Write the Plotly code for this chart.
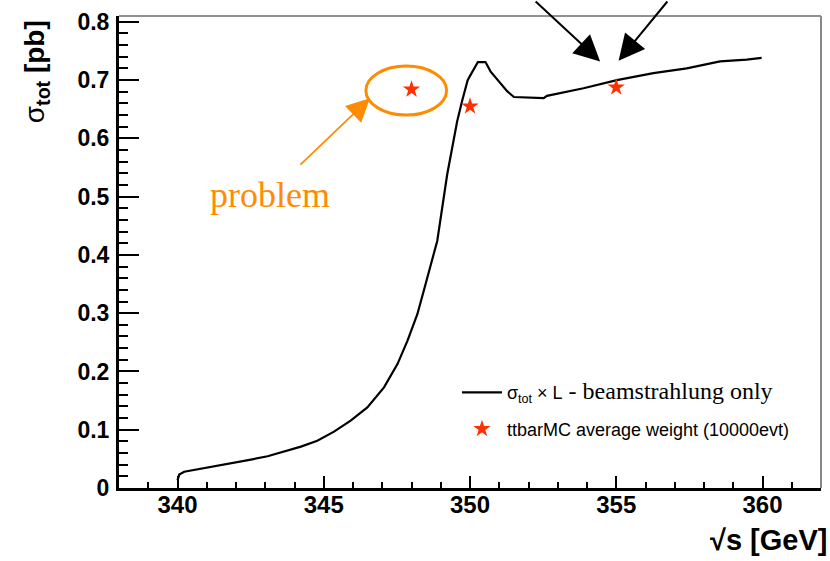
import plotly.graph_objects as go

# Total cross section (sigma_tot x L, beamstrahlung only) vs centre-of-mass energy
sqrt_s = [340.0, 340.06, 340.23, 340.46, 340.91, 341.37, 342.05, 342.51, 343.08, 343.65,
          344.22, 344.78, 345.35, 345.92, 346.49, 347.06, 347.52, 347.86, 348.2, 348.48,
          348.79, 348.88, 349.22, 349.56, 349.73, 349.92, 350.02, 350.27, 350.53, 350.70,
          351.27, 351.5, 352.52, 352.63, 353.88, 355.02, 356.27, 357.41, 358.55, 359.46,
          359.97]
sigma_tot = [0.013, 0.023, 0.028, 0.030, 0.034, 0.0385, 0.044, 0.0488, 0.0545, 0.0625,
             0.071, 0.081, 0.0967, 0.1156, 0.1384, 0.1726, 0.2127, 0.2526, 0.2983, 0.3497,
             0.4067, 0.424, 0.538, 0.629, 0.664, 0.700, 0.709, 0.731, 0.731, 0.715,
             0.681, 0.671, 0.669, 0.673, 0.686, 0.700, 0.712, 0.720, 0.732, 0.735,
             0.738]

# ttbar MC average weights
mc_sqrt_s = [348, 350, 355]
mc_weight = [0.684, 0.655, 0.6875]

x_ticks = [340, 345, 350, 355, 360]

ORANGE = "#FF8C00"
STAR_RED = "#FF3000"
SANS = "Liberation Sans"
SERIF = "Liberation Serif"

fig = go.Figure()
fig.add_trace(go.Scatter(
    x=sqrt_s, y=sigma_tot, mode="lines",
    line=dict(color="black", width=2.2),
    legendgroup="curve",
    name=('σ<sub>tot</sub> × L<span style="font-family:Liberation Serif;font-size:24px">'
          ' - beamstrahlung only</span>'),
))
fig.add_trace(go.Scatter(
    x=mc_sqrt_s, y=mc_weight, mode="markers",
    marker=dict(symbol="star", size=13, color=STAR_RED, line=dict(width=0)),
    legendgroup="mc",
    name="ttbarMC average weight (10000evt)",
))

# frame: top and right edges
fig.add_shape(type="line", xref="paper", yref="paper", x0=0, x1=1, y0=1, y1=1,
              line=dict(color="#222", width=1))
fig.add_shape(type="line", xref="paper", yref="paper", x0=1, x1=1, y0=0, y1=1,
              line=dict(color="#888", width=2))

# ellipse around the off-curve point
fig.add_shape(type="circle", xref="x", yref="y",
              x0=mc_sqrt_s[0] - 1.56, x1=mc_sqrt_s[0] + 1.20,
              y0=mc_weight[0] - 0.044, y1=mc_weight[0] + 0.040,
              line=dict(color=ORANGE, width=3))

annotations = [
    # orange arrow and label
    dict(x=346.58, y=0.669, xref="x", yref="y", ax=-71, ay=68, axref="pixel", ayref="pixel",
         showarrow=True, arrowhead=2, arrowsize=2.6, arrowwidth=1.8, arrowcolor=ORANGE, text=""),
    dict(x=343.15, y=0.503, xref="x", yref="y", text="problem", showarrow=False,
         font=dict(family=SERIF, size=36, color=ORANGE), xanchor="center", yanchor="middle"),
    # two black arrows pointing at the curve
    dict(x=354.45, y=0.732, xref="x", yref="y", ax=-66, ay=-80,
         showarrow=True, arrowhead=2, arrowsize=2.6, arrowwidth=2, arrowcolor="black", text=""),
    dict(x=355.08, y=0.733, xref="x", yref="y", ax=50, ay=-76,
         showarrow=True, arrowhead=2, arrowsize=2.6, arrowwidth=2, arrowcolor="black", text=""),
    # axis titles
    dict(x=0, y=0.881, xref="paper", yref="paper", xshift=-83, textangle=-90,
         text="σ<sub><b>tot</b></sub><b> [pb]</b>", showarrow=False,
         font=dict(family=SANS, size=28, color="black"), xanchor="center", yanchor="middle"),
    dict(x=1, y=-0.11, xref="paper", yref="paper", xshift=8,
         text="<b>√s [GeV]</b>", showarrow=False,
         font=dict(family=SANS, size=29, color="black"), xanchor="right", yanchor="middle"),
]

fig.update_layout(
    width=830, height=561,
    margin=dict(l=119, r=9, t=14, b=73),
    paper_bgcolor="white", plot_bgcolor="white",
    showlegend=True,
    legend=dict(x=0.4814, y=0.241, xanchor="left", yanchor="top",
                font=dict(family=SANS, size=18, color="black"),
                bgcolor="rgba(0,0,0,0)", borderwidth=0, itemwidth=40,
                tracegroupgap=10),
    annotations=annotations,
)

fig.update_xaxes(
    range=[338, 362], tickmode="array", tickvals=x_ticks,
    showline=True, linecolor="black", linewidth=3, showgrid=False, zeroline=False,
    ticks="inside", ticklen=12, tickwidth=2, tickcolor="black",
    tickfont=dict(family=SANS, size=24, color="black", weight="bold"),
    ticklabelstandoff=-7,
    minor=dict(dtick=1, tick0=340, ticks="inside", ticklen=6, tickwidth=2, tickcolor="black"),
)
fig.update_yaxes(
    range=[0, 0.81], dtick=0.1, tick0=0,
    showline=True, linecolor="black", linewidth=3, showgrid=False, zeroline=False,
    ticks="inside", ticklen=20, tickwidth=2, tickcolor="black",
    tickfont=dict(family=SANS, size=23, color="black", weight="bold"),
    ticklabelstandoff=2,
    minor=dict(dtick=0.02, ticks="inside", ticklen=9, tickwidth=2, tickcolor="black"),
)

fig.write_html("out.html")
